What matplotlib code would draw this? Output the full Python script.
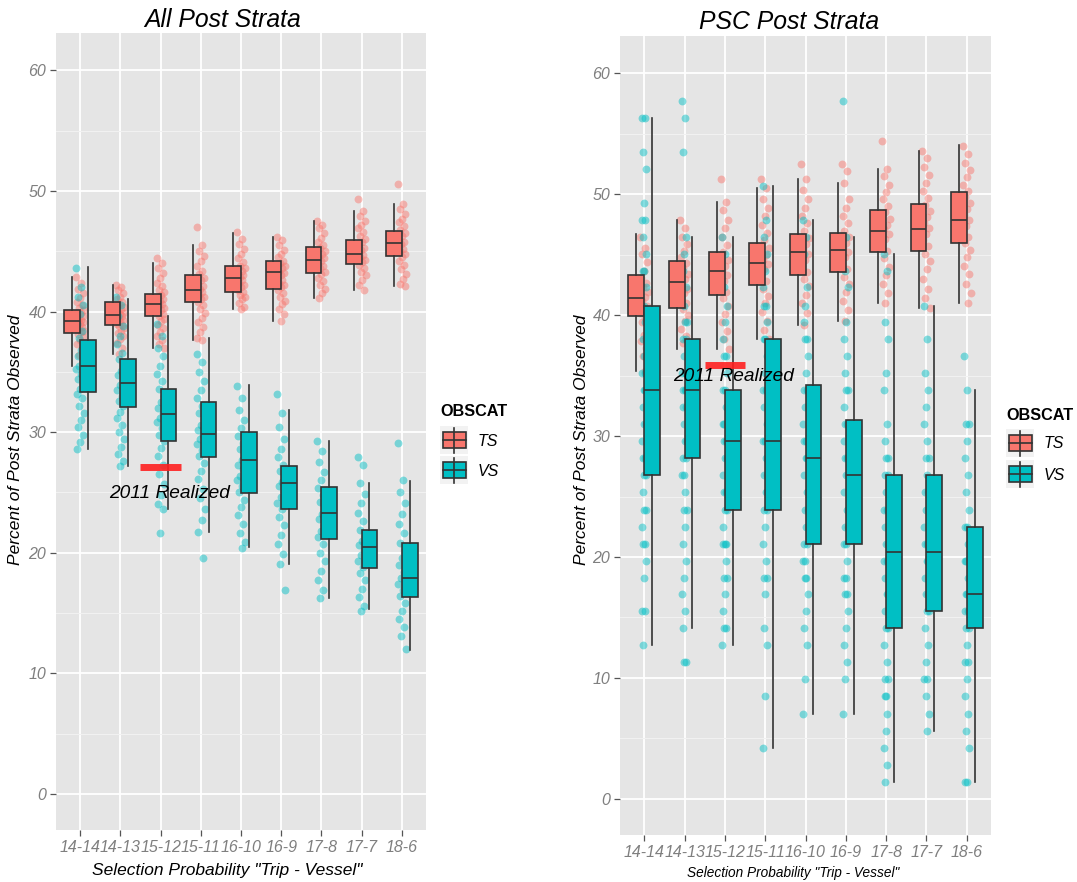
import matplotlib
matplotlib.use("Agg")
import matplotlib.pyplot as plt
from matplotlib.patches import Rectangle
import numpy as np

plt.rcParams['font.family'] = ['Liberation Sans', 'DejaVu Sans']

# ---------------- data ----------------
categories = ["14-14", "14-13", "15-12", "15-11", "16-10", "16-9", "17-8", "17-7", "18-6"]
groups = ["TS", "VS"]

# All Post Strata: box statistics
all_ts_q1 = [38.2, 38.9, 39.6, 40.8, 41.65, 41.9, 43.2, 43.95, 44.6]
all_ts_med = [39.25, 39.7, 40.6, 41.8, 42.75, 43.25, 44.3, 44.8, 45.65]
all_ts_q3 = [40.1, 40.8, 41.45, 43.05, 43.8, 44.2, 45.35, 45.9, 46.7]
all_ts_lo = [35.5, 36.5, 36.95, 37.6, 40.2, 39.2, 41.1, 41.8, 42.1]
all_ts_hi = [42.85, 42.2, 44.0, 45.5, 46.5, 46.2, 47.5, 48.3, 48.9]

all_vs_q1 = [33.35, 32.05, 29.3, 27.9, 24.95, 23.6, 21.1, 18.7, 16.3]
all_vs_med = [35.5, 34.1, 31.5, 29.85, 27.7, 25.8, 23.3, 20.5, 17.9]
all_vs_q3 = [37.65, 36.05, 33.6, 32.5, 30.0, 27.2, 25.45, 21.9, 20.8]
all_vs_lo = [28.6, 27.2, 23.6, 21.7, 20.5, 19.05, 16.2, 15.3, 11.95]
all_vs_hi = [43.7, 41.0, 39.65, 37.8, 33.9, 31.8, 29.3, 25.8, 25.95]

# PSC Post Strata: box statistics
psc_ts_q1 = [39.9, 40.6, 41.7, 42.5, 43.3, 43.6, 45.2, 45.3, 46.0]
psc_ts_med = [41.4, 42.75, 43.7, 44.3, 45.2, 45.4, 46.95, 47.15, 47.9]
psc_ts_q3 = [43.3, 44.5, 45.2, 46.0, 46.75, 46.8, 48.7, 49.2, 50.2]
psc_ts_lo = [35.4, 37.2, 37.2, 38.0, 39.2, 39.5, 41.0, 40.6, 41.0]
psc_ts_hi = [46.7, 47.9, 49.4, 50.5, 51.3, 50.9, 52.1, 53.6, 54.05]

psc_vs_q1 = [26.8, 28.2, 23.9, 23.9, 21.1, 21.1, 14.1, 15.5, 14.1]
psc_vs_med = [33.8, 33.8, 29.6, 29.6, 28.2, 26.8, 20.4, 20.4, 16.9]
psc_vs_q3 = [40.8, 38.0, 33.8, 38.0, 34.2, 31.3, 26.8, 26.8, 22.5]
psc_vs_lo = [12.7, 14.1, 12.7, 4.2, 7.0, 7.0, 1.4, 5.6, 1.4]
psc_vs_hi = [56.3, 46.5, 46.5, 50.7, 47.9, 46.5, 45.1, 40.8, 33.8]

# Simulated observations (points), per category
all_ts_pts = [
    [42.9, 42.4, 41.9, 41.5, 41.1, 40.8, 40.5, 40.3, 40.1, 39.9, 39.8, 39.6, 39.5, 39.4, 39.3, 39.2, 39.1, 39.0, 38.9, 38.7, 38.6, 38.4, 38.3, 38.1, 37.9, 37.6, 37.3, 36.9, 36.4, 35.5],
    [42.2, 42.0, 41.8, 41.5, 41.2, 41.0, 40.8, 40.6, 40.4, 40.2, 40.0, 39.9, 39.8, 39.7, 39.6, 39.5, 39.3, 39.2, 39.0, 38.9, 38.8, 38.6, 38.4, 38.2, 38.0, 37.7, 37.4, 37.0, 36.5],
    [44.4, 44.0, 43.6, 43.2, 42.8, 42.4, 42.1, 41.8, 41.6, 41.4, 41.2, 41.0, 40.9, 40.7, 40.6, 40.5, 40.3, 40.1, 39.9, 39.8, 39.6, 39.4, 39.2, 38.9, 38.6, 38.3, 38.0, 37.6, 37.3, 36.95],
    [47.0, 45.5, 45.0, 44.6, 44.2, 43.8, 43.4, 43.1, 42.8, 42.6, 42.3, 42.1, 41.9, 41.8, 41.6, 41.4, 41.2, 41.0, 40.8, 40.5, 40.2, 39.9, 39.5, 39.1, 38.7, 38.3, 37.8, 37.6],
    [46.6, 46.0, 45.6, 45.2, 44.8, 44.4, 44.1, 43.8, 43.6, 43.4, 43.2, 43.0, 42.9, 42.7, 42.6, 42.4, 42.2, 42.0, 41.8, 41.6, 41.4, 41.2, 41.0, 40.7, 40.4, 40.2],
    [46.2, 45.9, 45.5, 45.1, 44.8, 44.5, 44.2, 44.0, 43.8, 43.6, 43.4, 43.2, 43.0, 42.8, 42.6, 42.4, 42.2, 42.0, 41.8, 41.5, 41.2, 40.9, 40.6, 40.2, 39.8, 39.2],
    [47.5, 47.2, 46.9, 46.5, 46.1, 45.8, 45.5, 45.3, 45.0, 44.8, 44.6, 44.4, 44.2, 44.0, 43.8, 43.6, 43.3, 43.1, 42.8, 42.5, 42.2, 41.9, 41.5, 41.1],
    [49.3, 48.3, 47.9, 47.5, 47.2, 46.9, 46.6, 46.3, 46.0, 45.8, 45.6, 45.3, 45.1, 44.9, 44.7, 44.5, 44.3, 44.1, 43.9, 43.6, 43.3, 43.0, 42.6, 42.2, 41.8],
    [50.6, 48.9, 48.5, 48.1, 47.7, 47.4, 47.1, 46.8, 46.5, 46.3, 46.0, 45.8, 45.6, 45.4, 45.2, 45.0, 44.8, 44.5, 44.2, 43.9, 43.5, 43.1, 42.7, 42.3, 42.1],
]
all_vs_pts = [
    [43.6, 42.0, 41.2, 40.5, 39.8, 39.0, 38.4, 37.8, 37.2, 36.8, 36.3, 35.9, 35.5, 35.2, 34.8, 34.4, 34.0, 33.6, 33.2, 32.8, 32.2, 31.6, 31.0, 30.4, 29.8, 29.2, 28.6],
    [41.2, 40.5, 39.6, 38.8, 38.0, 37.3, 36.6, 36.1, 35.6, 35.1, 34.7, 34.3, 33.9, 33.5, 33.0, 32.6, 32.2, 31.7, 31.2, 30.6, 30.0, 29.4, 28.8, 28.2, 27.6, 27.2],
    [39.0, 38.0, 37.0, 36.3, 35.5, 34.8, 34.2, 33.6, 33.0, 32.5, 32.0, 31.6, 31.2, 30.8, 30.3, 29.8, 29.3, 28.7, 28.0, 27.3, 26.5, 25.7, 24.8, 24.0, 23.6, 21.6],
    [36.5, 35.8, 35.0, 34.2, 33.5, 32.8, 32.2, 31.6, 31.1, 30.6, 30.2, 29.8, 29.4, 29.0, 28.5, 28.0, 27.4, 26.8, 26.1, 25.3, 24.5, 23.6, 22.7, 21.7, 19.6],
    [33.8, 32.8, 31.8, 31.0, 30.3, 29.7, 29.1, 28.6, 28.1, 27.7, 27.3, 26.9, 26.4, 26.0, 25.5, 25.0, 24.4, 23.8, 23.1, 22.4, 21.6, 20.9, 20.4],
    [33.2, 31.6, 30.4, 29.4, 28.6, 27.9, 27.3, 26.8, 26.3, 25.9, 25.5, 25.1, 24.6, 24.1, 23.6, 23.0, 22.3, 21.5, 20.7, 19.9, 19.1, 16.9],
    [29.3, 28.4, 27.5, 26.7, 26.0, 25.4, 24.8, 24.2, 23.7, 23.2, 22.8, 22.3, 21.8, 21.3, 20.7, 20.0, 19.3, 18.5, 17.7, 16.9, 16.2],
    [27.9, 27.3, 25.8, 24.9, 24.1, 23.3, 22.6, 21.9, 21.4, 21.0, 20.6, 20.2, 19.8, 19.3, 18.8, 18.3, 17.7, 17.0, 16.3, 15.6, 15.2],
    [29.1, 26.0, 25.0, 24.1, 23.2, 22.4, 21.6, 20.8, 20.2, 19.6, 19.0, 18.4, 17.9, 17.4, 16.9, 16.4, 15.8, 15.2, 14.5, 13.8, 13.1, 12.0],
]
psc_ts_pts = [
    [46.5, 45.6, 45.1, 44.4, 43.7, 43.1, 42.7, 42.3, 41.9, 41.5, 41.2, 40.8, 40.5, 40.2, 39.8, 39.4, 38.9, 38.4, 37.9, 37.3, 36.6, 35.9, 35.4],
    [47.9, 47.2, 46.5, 45.9, 45.3, 44.8, 44.3, 43.9, 43.4, 43.0, 42.6, 42.2, 41.8, 41.4, 41.0, 40.5, 40.0, 39.5, 38.9, 38.3, 37.7, 37.2],
    [51.3, 49.4, 48.7, 47.9, 47.2, 46.5, 45.8, 45.2, 44.6, 44.1, 43.7, 43.3, 42.8, 42.4, 41.9, 41.4, 40.8, 40.1, 39.4, 38.7, 38.0, 37.2],
    [51.3, 50.5, 49.6, 48.9, 48.2, 47.5, 46.8, 46.2, 45.6, 45.0, 44.6, 44.2, 43.8, 43.3, 42.8, 42.2, 41.6, 41.0, 40.3, 39.5, 38.8, 38.0],
    [52.5, 51.3, 50.4, 49.6, 48.9, 48.2, 47.6, 47.0, 46.4, 45.9, 45.5, 45.1, 44.6, 44.1, 43.6, 43.0, 42.4, 41.7, 41.0, 40.2, 39.2],
    [52.5, 51.9, 50.9, 49.6, 48.9, 48.2, 47.6, 47.0, 46.5, 46.0, 45.6, 45.2, 44.8, 44.3, 43.8, 43.2, 42.6, 41.9, 41.2, 40.4, 39.5],
    [54.4, 52.1, 51.5, 50.8, 50.2, 49.6, 49.0, 48.5, 48.0, 47.5, 47.1, 46.7, 46.3, 45.8, 45.3, 44.7, 44.0, 43.3, 42.6, 41.8, 41.0],
    [53.6, 53.0, 52.3, 51.6, 50.9, 50.3, 49.7, 49.1, 48.6, 48.1, 47.6, 47.2, 46.7, 46.2, 45.7, 45.1, 44.5, 43.8, 43.0, 42.2, 41.4, 40.6],
    [54.0, 53.3, 52.6, 52.0, 51.4, 50.8, 50.3, 49.8, 49.3, 48.8, 48.3, 47.9, 47.4, 47.0, 46.5, 46.0, 45.4, 44.8, 44.1, 43.4, 42.6, 41.8, 41.0],
]
psc_vs_pts = [
    [56.3, 56.3, 53.5, 52.1, 49.3, 47.9, 47.9, 46.5, 45.1, 43.7, 43.7, 42.3, 40.8, 40.8, 39.4, 38.0, 38.0, 36.6, 35.2, 35.2, 33.8, 33.8, 33.8, 32.4, 31.0, 31.0, 29.6, 28.2, 28.2, 26.8, 26.8, 25.4, 23.9, 23.9, 22.5, 21.1, 21.1, 19.7, 18.3, 15.5, 15.5, 12.7],
    [57.7, 56.3, 53.5, 46.5, 45.1, 43.7, 42.3, 40.8, 39.4, 39.4, 38.0, 38.0, 36.6, 35.2, 35.2, 33.8, 33.8, 33.8, 32.4, 32.4, 31.0, 29.6, 29.6, 28.2, 28.2, 26.8, 26.8, 25.4, 23.9, 23.9, 22.5, 21.1, 19.7, 18.3, 16.9, 15.5, 14.1, 11.3, 11.3],
    [46.5, 45.1, 42.3, 40.8, 39.4, 38.0, 36.6, 36.6, 35.2, 33.8, 33.8, 32.4, 31.0, 31.0, 29.6, 29.6, 28.2, 28.2, 26.8, 25.4, 25.4, 23.9, 23.9, 22.5, 21.1, 21.1, 21.1, 19.7, 18.3, 18.3, 16.9, 15.5, 14.1, 14.1, 12.7],
    [50.7, 47.9, 46.5, 45.1, 43.7, 42.3, 40.8, 40.8, 39.4, 38.0, 38.0, 36.6, 35.2, 33.8, 33.8, 32.4, 31.0, 29.6, 29.6, 28.2, 26.8, 26.8, 25.4, 23.9, 23.9, 22.5, 21.1, 19.7, 18.3, 18.3, 16.9, 14.1, 12.7, 8.5, 4.2],
    [47.9, 46.5, 45.1, 42.3, 40.8, 39.4, 38.0, 38.0, 36.6, 35.2, 33.8, 33.8, 32.4, 31.0, 29.6, 29.6, 28.2, 28.2, 26.8, 25.4, 23.9, 23.9, 22.5, 21.1, 21.1, 19.7, 19.7, 18.3, 18.3, 16.9, 15.5, 14.1, 12.7, 9.9, 7.0],
    [57.7, 46.5, 43.7, 42.3, 39.4, 38.0, 36.6, 35.2, 33.8, 33.8, 32.4, 31.0, 31.0, 29.6, 28.2, 28.2, 26.8, 26.8, 25.4, 23.9, 22.5, 22.5, 21.1, 21.1, 19.7, 18.3, 18.3, 16.9, 16.9, 15.5, 14.1, 12.7, 11.3, 9.9, 7.0],
    [45.1, 43.7, 39.4, 38.0, 35.2, 33.8, 31.0, 29.6, 28.2, 28.2, 26.8, 26.8, 25.4, 23.9, 23.9, 22.5, 21.1, 21.1, 19.7, 19.7, 18.3, 16.9, 16.9, 15.5, 14.1, 14.1, 12.7, 11.3, 9.9, 9.9, 8.5, 8.5, 7.0, 5.6, 4.2, 2.8, 1.4],
    [40.8, 38.0, 35.2, 33.8, 32.4, 31.0, 29.6, 28.2, 28.2, 26.8, 25.4, 25.4, 23.9, 22.5, 21.1, 21.1, 19.7, 19.7, 18.3, 16.9, 16.9, 15.5, 15.5, 14.1, 12.7, 11.3, 9.9, 9.9, 8.5, 7.0, 5.6],
    [36.6, 33.8, 31.0, 31.0, 29.6, 28.2, 26.8, 25.4, 23.9, 22.5, 22.5, 21.1, 19.7, 19.7, 18.3, 16.9, 16.9, 16.9, 15.5, 15.5, 14.1, 14.1, 12.7, 11.3, 11.3, 9.9, 8.5, 7.0, 5.6, 4.2, 1.4, 1.4],
]

all_realized = 27.1
psc_realized = 35.9
realized_category = "15-12"

# ---------------- style ----------------
TS_COL = "#F8766D"
VS_COL = "#00BFC4"
EDGE = "#333333"
BG = "#E5E5E5"
TICK_COL = "#7F7F7F"

W, H = 1077, 882
fig = plt.figure(figsize=(W / 100, H / 100), dpi=100)
fig.patch.set_facecolor("white")


def rect(l, t, r, b):
    return [l / W, 1 - b / H, (r - l) / W, (b - t) / H]


def jitter(n, half_width):
    return ((np.arange(n) * 0.6180339887) % 1.0 - 0.5) * 2 * half_width


def stats(q1, med, q3, lo, hi):
    return [dict(q1=a, med=b, q3=c, whislo=d, whishi=e, fliers=[])
            for a, b, c, d, e in zip(q1, med, q3, lo, hi)]


def draw_panel(ax, ts_st, vs_st, ts_pts, vs_pts, realized, jw_ts, jw_vs, text_xy):
    n = len(categories)
    pos = np.arange(1, n + 1)
    ax.set_facecolor(BG)
    ax.set_xlim(0.4, n + 0.6)
    ax.set_ylim(-3.0, 63.1)
    ax.set_yticks([0, 10, 20, 30, 40, 50, 60])
    ax.set_yticks([5, 15, 25, 35, 45, 55], minor=True)
    ax.set_xticks(pos)
    ax.set_xticklabels(categories)
    ax.grid(which="major", color="white", lw=1.3)
    ax.grid(which="minor", axis="y", color="#F2F2F2", lw=0.7)
    ax.set_axisbelow(True)
    for s in ax.spines.values():
        s.set_visible(False)
    ax.tick_params(axis="both", which="major", length=4, width=0.9, color="#555555",
                   labelcolor=TICK_COL, labelsize=11.5, pad=3)
    ax.tick_params(axis="y", which="minor", length=0)
    for lab in ax.get_xticklabels() + ax.get_yticklabels():
        lab.set_fontstyle("italic")

    # jittered points
    for i, vals in enumerate(ts_pts):
        ax.scatter(pos[i] + jitter(len(vals), jw_ts), vals, s=32, color=TS_COL,
                   alpha=0.48, lw=0, zorder=2)
    for i, vals in enumerate(vs_pts):
        ax.scatter(pos[i] + jitter(len(vals), jw_vs), vals, s=32, color=VS_COL,
                   alpha=0.48, lw=0, zorder=2)

    # boxplots (dodged)
    common = dict(widths=0.39, patch_artist=True, showfliers=False, showcaps=False,
                  medianprops=dict(color=EDGE, lw=1.2),
                  whiskerprops=dict(color=EDGE, lw=1.2), manage_ticks=False,
                  zorder=3)
    ax.bxp(ts_st, positions=pos - 0.195,
           boxprops=dict(facecolor=TS_COL, edgecolor=EDGE, lw=1.2), **common)
    ax.bxp(vs_st, positions=pos + 0.195,
           boxprops=dict(facecolor=VS_COL, edgecolor=EDGE, lw=1.2), **common)

    # realized marker
    rc = categories.index(realized_category) + 1
    ax.hlines(realized, rc - 0.5, rc + 0.5, color="#FF1F1F", lw=5, zorder=4, alpha=0.9)
    ax.text(text_xy[0], text_xy[1], "2011 Realized", fontsize=13.8, style="italic",
            ha="center", va="center", color="black", zorder=5)


ax1 = fig.add_axes(rect(56, 33, 426, 830))
draw_panel(ax1,
           stats(all_ts_q1, all_ts_med, all_ts_q3, all_ts_lo, all_ts_hi),
           stats(all_vs_q1, all_vs_med, all_vs_q3, all_vs_lo, all_vs_hi),
           all_ts_pts, all_vs_pts, all_realized, 0.1, 0.1, (3.22, 24.9))

ax2 = fig.add_axes(rect(620, 36, 991, 835))
draw_panel(ax2,
           stats(psc_ts_q1, psc_ts_med, psc_ts_q3, psc_ts_lo, psc_ts_hi),
           stats(psc_vs_q1, psc_vs_med, psc_vs_q3, psc_vs_lo, psc_vs_hi),
           psc_ts_pts, psc_vs_pts, psc_realized, 0.1, 0.06, (3.22, 34.9))

# ---------------- overlay: titles, axis labels, legends ----------------
ov = fig.add_axes([0, 0, 1, 1], zorder=10)
ov.set_xlim(0, W)
ov.set_ylim(H, 0)
ov.axis("off")
ov.patch.set_alpha(0)

ov.text(223, 20, "All Post Strata", fontsize=17.8, style="italic", ha="center", va="center")
ov.text(789, 22, "PSC Post Strata", fontsize=17.8, style="italic", ha="center", va="center")
ov.text(16, 440, "Percent of Post Strata Observed", fontsize=12.5, style="italic",
        rotation=90, ha="center", va="center")
ov.text(581, 440, "Percent of Post Strata Observed", fontsize=12.5, style="italic",
        rotation=90, ha="center", va="center")
ov.text(227, 870, 'Selection Probability "Trip - Vessel"', fontsize=12.5, style="italic",
        ha="center", va="center")
ov.text(793, 873, 'Selection Probability "Trip - Vessel"', fontsize=9.8, style="italic",
        ha="center", va="center")


def legend(x0, title_y, ts_cy, vs_cy, label_x):
    ov.text(x0, title_y, "OBSCAT", fontsize=11.7, weight="bold", ha="left", va="center")
    for cy, col, lab in [(ts_cy, TS_COL, groups[0]), (vs_cy, VS_COL, groups[1])]:
        ov.add_patch(Rectangle((x0, cy - 14), 28, 28, facecolor="#F2F2F2",
                               edgecolor="none"))
        cx = x0 + 14
        ov.plot([cx, cx], [cy - 12.5, cy + 12.5], color=EDGE, lw=1.2)
        ov.add_patch(Rectangle((x0 + 2.5, cy - 7.7), 23, 15.4, facecolor=col,
                               edgecolor=EDGE, lw=1.2))
        ov.plot([x0 + 2.5, x0 + 25.5], [cy, cy], color=EDGE, lw=1.2)
        ov.text(label_x, cy + 1, lab, fontsize=11.5, style="italic", ha="left", va="center")


legend(440, 412, 440, 470, 478)
legend(1006, 416, 443, 474, 1044)

fig.savefig("out.png", dpi=100)
